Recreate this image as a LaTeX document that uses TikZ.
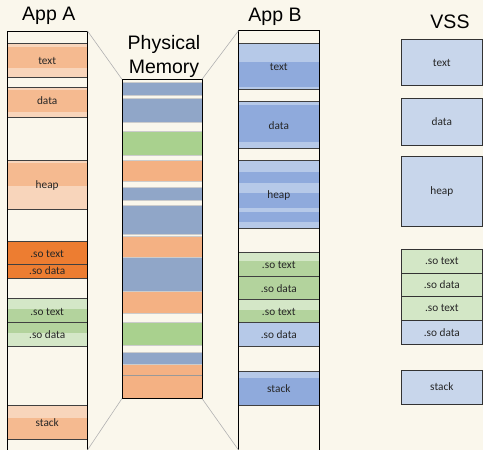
\documentclass[tikz,border=0pt]{standalone}
\usepackage{fontspec}
\setmainfont{Carlito}
\newfontfamily\headfont{Liberation Sans}

\definecolor{paper}{HTML}{FAF7EC}
\definecolor{orL}{HTML}{F8D5BB}
\definecolor{orD}{HTML}{F5BA90}
\definecolor{orX}{HTML}{ED7D31}
\definecolor{grL}{HTML}{D4E7C7}
\definecolor{grD}{HTML}{B3D39D}
\definecolor{blL}{HTML}{B6C9E8}
\definecolor{blD}{HTML}{8FAADC}
\definecolor{phB}{HTML}{90A6C8}
\definecolor{phO}{HTML}{F4B183}
\definecolor{phG}{HTML}{A9D18E}
\definecolor{vsB}{HTML}{C8D6EB}
\definecolor{vsG}{HTML}{D3E7C6}

\tikzset{
  lbl/.style={font=\fontsize{11.3}{13}\selectfont, text=black!85, inner sep=0pt},
  ttl/.style={font=\headfont\fontsize{19.5}{24}\selectfont, align=center, inner sep=0pt},
  frame/.style={draw=black, line width=0.8pt, inner sep=0pt, outer sep=0pt, anchor=north west},
  sep/.style={draw=black!75, line width=0.6pt},
  zoomline/.style={draw=black!30, line width=0.6pt},
  vssbox/.style={draw=black!80, line width=0.7pt, inner sep=0pt, outer sep=0pt, anchor=north west,
    minimum width=80.3pt, font=\fontsize{11.3}{13}\selectfont, text=black!85},
}

\begin{document}
\begin{tikzpicture}[x=1pt,y=-1pt]
  % background
  \useasboundingbox (0,0) rectangle (483,450);
  \fill[paper] (0,0) rectangle (483,450);

  % App A: bands and row lines
  \foreach \ya/\yb/\c in {43/77/orL, 46.7/68/orD, 87/117/orL, 90/112/orD,
      160.7/209/orL, 163/186/orD, 241/278/orX, 298/346/grL, 309/333/grD,
      405/439/orL, 418/439/orD}
    \fill[\c] (7,\ya) rectangle (87.5,\yb);
  \foreach \y in {43,77,87,117,160.7,209,241,264,278,298,322.7,346,405,439}
    \draw[sep] (7,\y) -- (87.5,\y);
  \node[frame, minimum width=80.5pt, minimum height=421pt] (appA) at (7,31) {};
  \foreach \y/\t [count=\i] in {61/text, 101/data, 185/heap, 254/.so text,
      271/.so data, 311.7/.so text, 335/.so data, 423/stack}
    \node[lbl] (a\i) at (47.2,\y) {\t};

  % Physical memory
  \foreach \ya/\yb/\c in {82/95.3/phB, 98/121.7/phB, 130.7/154.7/phG, 160/181.3/phO,
      187.3/200/phB, 205.3/234/phB, 236/257.3/phO, 257.3/291/phB, 291/313.3/phO,
      321.7/345.3/phG, 352.3/364/phB, 364/398.5/phO}
    \filldraw[fill=\c, draw=black!20, line width=0.4pt] (122,\ya) rectangle (202,\yb);
  \draw[draw=black!40, line width=0.6pt] (122,375.7) -- (202,375.7);
  \node[frame, minimum width=80pt, minimum height=319.2pt] (phys) at (122,79.3) {};

  % App B: bands and row lines
  \foreach \ya/\yb/\c in {43.3/89.3/blL, 62/87/blD, 101.7/148/blL, 105/142.3/blD,
      160/228.3/blL, 171.7/183.3/blD, 193.3/208.3/blD, 211.7/221.7/blD,
      252/276/grL, 260.7/276/grD, 276/299.3/grD, 299.3/322.7/grL, 310/322.7/grD,
      322.7/346/blL, 371.7/405.7/blL, 378.3/405.7/blD}
    \fill[\c] (238.5,\ya) rectangle (319.5,\yb);
  \foreach \y in {43.3,89.3,101.7,148,160,228.3,252,276,299.3,322.7,346,371.7,405.7}
    \draw[sep] (238.5,\y) -- (319.5,\y);
  \node[frame, minimum width=81pt, minimum height=421.3pt] (appB) at (238.5,30.7) {};
  \foreach \y/\t [count=\i] in {66.7/text, 126/data, 195/heap, 265/.so text,
      288.3/.so data, 311.7/.so text, 335/.so data, 389/stack}
    \node[lbl] (b\i) at (278.8,\y) {\t};

  % VSS
  \node[vssbox, fill=vsB, minimum height=46.4pt] (vText) at (401.7,39.3) {text};
  \node[vssbox, fill=vsB, minimum height=46.7pt] (vData) at (401.7,98.3) {data};
  \node[vssbox, fill=vsB, minimum height=70pt] (vHeap) at (401.7,156.7) {heap};
  \node[vssbox, fill=vsG, minimum height=24pt] (vSoText) at (401.7,249.3) {.so text};
  \node[vssbox, fill=vsG, minimum height=23.4pt] (vSoData) at (401.7,273.3) {.so data};
  \node[vssbox, fill=vsG, minimum height=23.3pt] (vSoTextB) at (401.7,296.7) {.so text};
  \node[vssbox, fill=vsB, minimum height=24.3pt] (vSoDataB) at (401.7,320) {.so data};
  \node[vssbox, fill=vsB, minimum height=34pt] (vStack) at (401.7,370) {stack};

  % zoom lines from the apps to physical memory
  \coordinate (aLow) at (87.5,450);
  \coordinate (bLow) at (238.5,450);
  \draw[zoomline] (appA.north east) -- (phys.north west);
  \draw[zoomline] (phys.south west) -- (aLow);
  \draw[zoomline] (phys.north east) -- (appB.north west);
  \draw[zoomline] (phys.south east) -- (bLow);

  % titles
  \node[ttl, anchor=base] (tA) at (48.8,20.7) {App A};
  \node[ttl] (tP) at (164,56.2) {Physical\\Memory};
  \node[ttl, anchor=base] (tB) at (275,21.7) {App B};
  \node[ttl, anchor=base] (tV) at (450,28) {VSS};
\end{tikzpicture}
\end{document}
